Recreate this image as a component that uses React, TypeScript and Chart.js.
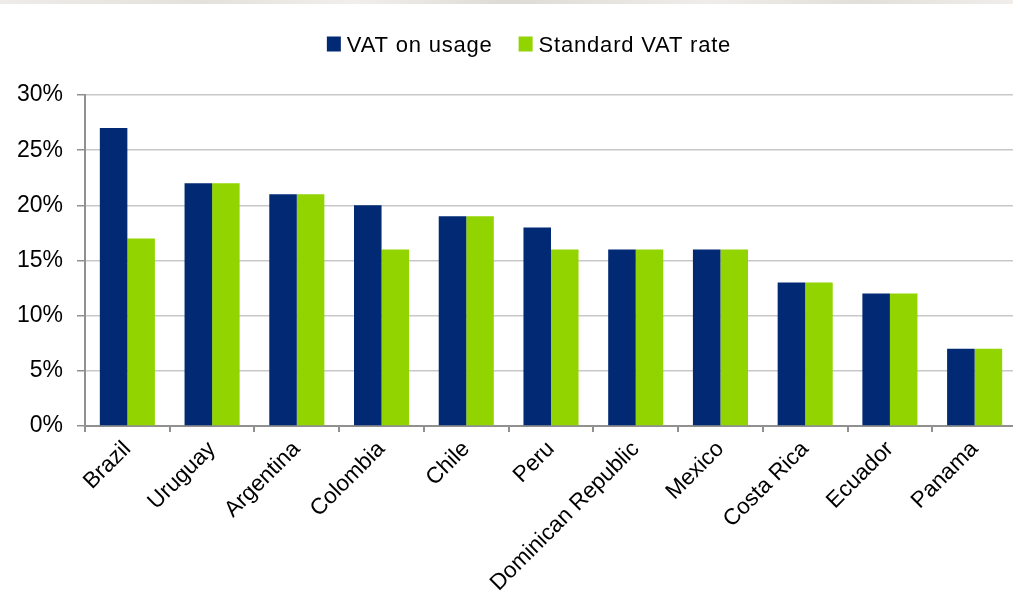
import React, { useEffect, useRef } from "react";
import { Chart, registerables } from "chart.js";

Chart.register(...registerables);

const categories = [
  "Brazil",
  "Uruguay",
  "Argentina",
  "Colombia",
  "Chile",
  "Peru",
  "Dominican Republic",
  "Mexico",
  "Costa Rica",
  "Ecuador",
  "Panama",
];
const vatOnUsage = [27, 22, 21, 20, 19, 18, 16, 16, 13, 12, 7];
const standardVat = [17, 22, 21, 16, 19, 16, 16, 16, 13, 12, 7];
const seriesNames = ["VAT on usage", "Standard VAT rate"];
const yMin = 0;
const yMax = 30;
const yStep = 5;

const BLUE = "#022a74";
const GREEN = "#92d400";
const FONT = "'Liberation Sans', Arial, sans-serif";

const legendPlugin = {
  id: "customLegend",
  afterDraw(chart: any) {
    const ctx = chart.ctx;
    ctx.save();
    ctx.font = `22px ${FONT}`;
    try {
      (ctx as any).letterSpacing = "0.8px";
    } catch (e) {}
    ctx.textBaseline = "alphabetic";
    ctx.textAlign = "left";
    const boxW = 14;
    const boxH = 15;
    const gapText = 6;
    const gapItem = 26;
    const items = chart.data.datasets.map((d: any) => ({
      label: d.label,
      color: d.backgroundColor,
      w: boxW + gapText + ctx.measureText(d.label).width,
    }));
    const total =
      items.reduce((a: number, it: any) => a + it.w, 0) + gapItem * (items.length - 1);
    let x = 529 - total / 2;
    const boxTop = 36.5;
    const baseline = 51.5;
    items.forEach((it: any) => {
      ctx.fillStyle = it.color;
      ctx.fillRect(x, boxTop, boxW, boxH);
      ctx.fillStyle = "#000";
      ctx.fillText(it.label, x + boxW + gapText, baseline);
      x += it.w + gapItem;
    });
    ctx.restore();
  },
};

export default function App() {
  const ref = useRef<HTMLCanvasElement>(null);
  useEffect(() => {
    if (!ref.current) return;
    const chart = new Chart(ref.current, {
      type: "bar",
      data: {
        labels: categories,
        datasets: [
          {
            label: seriesNames[0],
            data: vatOnUsage,
            backgroundColor: BLUE,
            categoryPercentage: 0.65,
            barPercentage: 1,
          },
          {
            label: seriesNames[1],
            data: standardVat,
            backgroundColor: GREEN,
            categoryPercentage: 0.65,
            barPercentage: 1,
          },
        ],
      },
      options: {
        responsive: false,
        animation: false,
        layout: { padding: { top: 95, left: 0, right: 0, bottom: 0 } },
        plugins: {
          legend: { display: false },
          tooltip: { enabled: false },
        },
        scales: {
          x: {
            afterFit: (s: any) => {
              s.height = 177;
            },
            grid: {
              offset: true,
              drawOnChartArea: false,
              drawTicks: true,
              tickLength: 6,
              tickColor: "#909090",
              lineWidth: 2,
            },
            border: { color: "#909090", width: 2 },
            ticks: {
              autoSkip: false,
              maxRotation: 45,
              minRotation: 45,
              color: "#000",
              padding: 4,
              font: { family: FONT, size: 22.5 },
            },
          },
          y: {
            min: yMin,
            max: yMax,
            afterFit: (s: any) => {
              s.width = 85;
            },
            grid: {
              color: "#c8c8c8",
              lineWidth: 1.5,
              tickLength: 8,
              tickColor: "#909090",
            },
            border: { color: "#909090", width: 2 },
            ticks: {
              stepSize: yStep,
              padding: 14,
              color: "#000",
              font: { family: FONT, size: 23 },
              callback: (v: any) => `${v}%`,
            },
          },
        },
      },
      plugins: [legendPlugin],
    });
    return () => chart.destroy();
  }, []);
  return (
    <div style={{ position: "fixed", left: 0, top: 0, width: 1013, height: 603, background: "#fff", overflow: "hidden" }}>
      <div
        style={{
          position: "absolute",
          left: 0,
          top: 0,
          width: 1013,
          height: 4,
          background: "linear-gradient(90deg, #efebe8 0%, #e4e0dc 20%, #f2eeeb 35%, #dedad6 50%, #f0ece9 70%, #e2deda 85%, #f1edea 100%)",
        }}
      />
      <canvas ref={ref} width={1017} height={603} style={{ position: "absolute", left: 0, top: 0 }} />
    </div>
  );
}
